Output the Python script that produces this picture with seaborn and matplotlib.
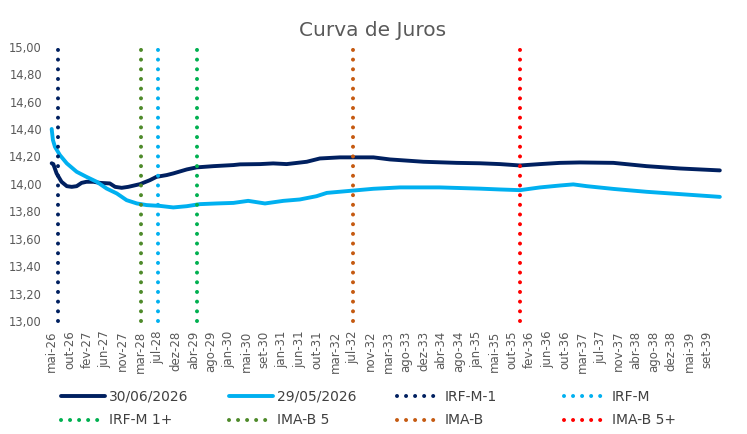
import numpy as np
import pandas as pd
import seaborn as sns
import matplotlib
matplotlib.use("Agg")
import matplotlib.pyplot as plt
from matplotlib.lines import Line2D

# meses desde mai-26 / taxa (%)
meses_3006 = [0, 0.4, 1.2, 2.4, 3.7, 4.9, 6.1, 7.3, 8.5, 10.2, 11.8, 14.2, 15.5, 17.1, 18.7,
              21.6, 24.0, 25.6, 28.1, 29.7, 33.0, 35.4, 39.5, 44.4, 46.0, 50.9, 54.1, 57.4,
              62.3, 65.5, 70.4, 78.6, 82.6, 90.8, 98.9, 104.6, 109.5, 114.4, 119.3, 124.2,
              129.0, 137.2, 145.3, 153.5, 163.2]
taxa_3006 = [14.15, 14.144, 14.076, 14.015, 13.983, 13.978, 13.983, 14.007, 14.015, 14.015,
             14.007, 14.003, 13.978, 13.971, 13.978, 13.998, 14.027, 14.051, 14.064, 14.076,
             14.105, 14.12, 14.129, 14.137, 14.142, 14.144, 14.149, 14.144, 14.161, 14.185,
             14.193, 14.193, 14.178, 14.161, 14.153, 14.150, 14.144, 14.134, 14.144, 14.153,
             14.156, 14.153, 14.129, 14.112, 14.098]

meses_2905 = [0, 0.3, 0.8, 2.0, 3.7, 6.1, 8.5, 11.0, 13.4, 15.9, 18.3, 20.8, 23.2, 26.5, 29.7,
              33.0, 36.2, 40.3, 44.4, 48.0, 52.1, 56.6, 60.6, 64.7, 67.2, 72.9, 78.6, 85.1,
              94.8, 104.6, 109.5, 114.4, 119.3, 124.2, 127.4, 130.7, 137.2, 145.3, 153.5, 163.2]
taxa_2905 = [14.40, 14.32, 14.27, 14.21, 14.149, 14.088, 14.051, 14.015, 13.966, 13.93, 13.881,
             13.857, 13.845, 13.839, 13.828, 13.837, 13.852, 13.857, 13.861, 13.876, 13.857,
             13.876, 13.886, 13.91, 13.934, 13.949, 13.964, 13.974, 13.974, 13.965, 13.959,
             13.954, 13.974, 13.988, 13.996, 13.983, 13.963, 13.942, 13.925, 13.905]

# duration dos indices (meses desde mai-26)
indices = ["IRF-M-1", "IRF-M", "IRF-M 1+", "IMA-B 5", "IMA-B", "IMA-B 5+"]
indices_pos = [1.6, 25.9, 35.4, 21.7, 73.7, 114.4]
indices_cor = ["#002060", "#00B0F0", "#00B050", "#4E8A2A", "#C55A11", "#FF0000"]

rotulos_x = ["mai-26", "out-26", "fev-27", "jun-27", "nov-27", "mar-28", "jul-28", "dez-28",
             "abr-29", "ago-29", "jan-30", "mai-30", "set-30", "jan-31", "jun-31", "out-31",
             "mar-32", "jul-32", "nov-32", "mar-33", "ago-33", "dez-33", "abr-34", "ago-34",
             "jan-35", "mai-35", "out-35", "fev-36", "jun-36", "out-36", "mar-37", "jul-37",
             "nov-37", "abr-38", "ago-38", "dez-38", "mai-39", "set-39"]
meses_total = 160

df = pd.concat([
    pd.DataFrame({"mes": meses_3006, "taxa": taxa_3006, "curva": "30/06/2026"}),
    pd.DataFrame({"mes": meses_2905, "taxa": taxa_2905, "curva": "29/05/2026"}),
])
cores_curva = {"30/06/2026": "#002060", "29/05/2026": "#00B0F0"}

sns.set_theme(style="white")
plt.rcParams['font.family'] = ['DejaVu Sans']
plt.rcParams['lines.scale_dashes'] = False
cinza = "#595959"

fig = plt.figure(figsize=(7.47, 4.34), dpi=100)
ax = fig.add_axes([0.0637, 0.2604, 0.9098, 0.6320])

sns.lineplot(data=df, x="mes", y="taxa", hue="curva", palette=cores_curva,
             hue_order=["30/06/2026", "29/05/2026"], linewidth=2.8, legend=False,
             ax=ax, sort=False, estimator=None)

# pontos redondos de ~4px a cada ~9.7px
pontilhado = (0, (0.01, 6.96))
for pos, cor in zip(indices_pos, indices_cor):
    ax.plot([pos, pos], [13.0, 15.0], color=cor, lw=2.9, linestyle=pontilhado,
            dash_capstyle="round", clip_on=False)

ax.set_xlim(-1, 165)
ax.set_ylim(13, 15)
passo = meses_total / (len(rotulos_x) - 1)
ax.set_xticks(np.arange(len(rotulos_x)) * passo)
ax.set_xticklabels(rotulos_x, rotation=90, fontsize=8.5, color=cinza)
yt = np.arange(13, 15.01, 0.2)
ax.set_yticks(yt)
ax.set_yticklabels([f"{v:.2f}".replace(".", ",") for v in yt], fontsize=8.3, color=cinza)
ax.tick_params(axis="x", length=0, pad=7)
ax.tick_params(axis="y", length=0, pad=4)
ax.set_xlabel("")
ax.set_ylabel("")
for s in ax.spines.values():
    s.set_visible(False)
ax.grid(False)

fig.text(373 / 747, 1 - 30 / 434, "Curva de Juros", ha="center", va="center",
         fontsize=14.5, color=cinza)

# legenda em 4 colunas
def h_linha(cor):
    return Line2D([], [], color=cor, lw=2.8, solid_capstyle="round")

def h_pont(cor):
    return Line2D([], [], color=cor, lw=2.9, linestyle=(0, (0.01, 6.5)), dash_capstyle="round")

colunas = [
    ([h_linha(cores_curva["30/06/2026"]), h_pont(indices_cor[2])], ["30/06/2026", "IRF-M 1+"]),
    ([h_linha(cores_curva["29/05/2026"]), h_pont(indices_cor[3])], ["29/05/2026", "IMA-B 5"]),
    ([h_pont(indices_cor[0]), h_pont(indices_cor[4])], ["IRF-M-1", "IMA-B"]),
    ([h_pont(indices_cor[1]), h_pont(indices_cor[5])], ["IRF-M", "IMA-B 5+"]),
]
for (hs, ls), x0 in zip(colunas, [61, 229, 397, 564]):
    leg = fig.legend(hs, ls, loc="upper left", bbox_to_anchor=(x0 / 747, 1 - 390 / 434),
                     frameon=False, fontsize=10, handlelength=3.2, handletextpad=0.25,
                     borderpad=0, borderaxespad=0, labelspacing=0.68)
    for t in leg.get_texts():
        t.set_color("#404040")

fig.savefig("out.png", dpi=100)
